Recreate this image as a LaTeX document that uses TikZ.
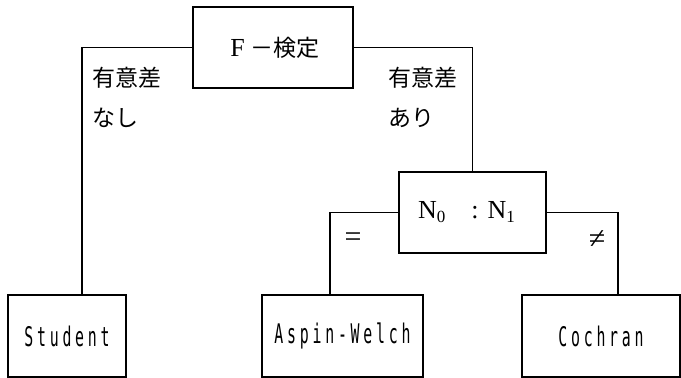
\documentclass[tikz,border=0pt]{standalone}
\usepackage{fontspec}
\newfontfamily\jp{Noto Sans CJK JP}
\newfontfamily\srf{Liberation Serif}
\newfontfamily\typ[FakeStretch=0.55,LetterSpace=14]{DejaVu Sans Mono}
\begin{document}
\begin{tikzpicture}[x=1pt,y=-1pt,line width=1.3pt,
  box/.style={draw, rectangle, inner sep=0pt},
  lbl/.style={font=\jp\fontsize{23}{23}\selectfont, anchor=west, inner sep=0pt},
  bigtext/.style={font=\srf\fontsize{26}{26}\selectfont},
  tt/.style={font=\typ\fontsize{27}{27}\selectfont},
  symtext/.style={font=\srf\fontsize{30}{30}\selectfont, inner sep=0pt}]
\useasboundingbox (0,0) rectangle (681,378);
\node[box, bigtext, minimum width=160pt, minimum height=81pt] (F) at (273,47.5) {\hspace*{4pt}F\hspace{6pt}{\jp\fontsize{23}{23}\selectfont －検定}};
\node[box, bigtext, minimum width=147pt, minimum height=81pt] (N) at (472.5,212.5) {N\raisebox{-4pt}{\fontsize{17}{17}\selectfont 0}\hspace{26pt}:\hspace{9pt}N\raisebox{-4pt}{\fontsize{17}{17}\selectfont 1}\hspace*{12pt}};
\node[box, tt, minimum width=118pt, minimum height=82pt] (S) at (67,336) {Student};
\node[box, tt, minimum width=161pt, minimum height=82pt] (A) at (342.5,336) {Aspin-Welch};
\node[box, tt, minimum width=158pt, minimum height=82pt] (C) at (601,336) {Cochran};
\draw (F.west) -| ([xshift=15pt]S.north);
\draw (F.east) -| (N.north);
\draw (N.west) -| ([xshift=-12.5pt]A.north);
\draw (N.east) -| ([xshift=17pt]C.north);
\node[lbl] (l1) at (92,78) {有意差};
\node[lbl] (l2) at (92,118) {なし};
\node[lbl] (r1) at (388,78) {有意差};
\node[lbl] (r2) at (388,118) {あり};
\node[symtext] (eq) at (353,240) {=};
\node[symtext] (ne) at (597,240) {≠};
\end{tikzpicture}
\end{document}
